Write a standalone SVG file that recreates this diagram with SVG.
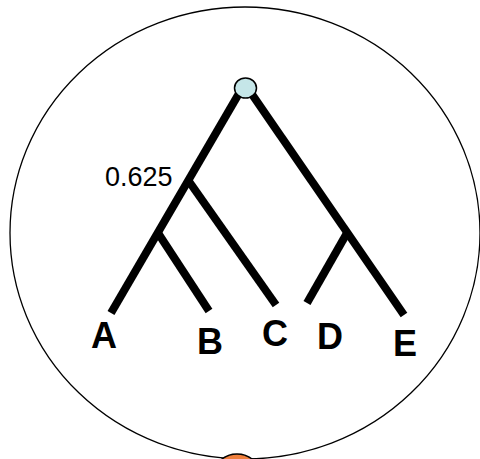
<svg xmlns="http://www.w3.org/2000/svg" width="480" height="459" viewBox="0 0 480 459">
<style>
.br{stroke:#000;stroke-width:8;stroke-linecap:butt;fill:none}
.lbl{font-family:"Liberation Sans",Arial,sans-serif;font-weight:bold;font-size:36px;text-anchor:middle;fill:#000}
.num{font-family:"Liberation Sans",Arial,sans-serif;font-size:27px;fill:#000}
</style>
<rect width="480" height="459" fill="#fff"/>
<g id="outer"><ellipse cx="245" cy="233" rx="235" ry="226" fill="none" stroke="#000" stroke-width="1.3"/></g>
<g id="connectors">
<line class="br" x1="241" y1="90" x2="111" y2="313"/>
<line class="br" x1="249" y1="90" x2="404" y2="315"/>
<line class="br" x1="158" y1="233" x2="209" y2="311"/>
<line class="br" x1="188" y1="180" x2="276" y2="305"/>
<line class="br" x1="347" y1="233" x2="307" y2="303"/>
</g>
<g id="root"><ellipse cx="245.5" cy="88" rx="11" ry="10" fill="#c5e6e8" stroke="#000" stroke-width="1.5"/></g>
<g id="n0625"><text class="num" x="105" y="186">0.625</text></g>
<g id="A"><text class="lbl" x="104" y="348">A</text></g>
<g id="B"><text class="lbl" x="210" y="354">B</text></g>
<g id="C"><text class="lbl" x="275" y="346">C</text></g>
<g id="D"><text class="lbl" x="330" y="349">D</text></g>
<g id="E"><text class="lbl" x="405" y="356">E</text></g>
<g id="orange"><circle cx="237" cy="479" r="25" fill="#f07f3c" stroke="#000" stroke-width="1.5"/></g>
</svg>
